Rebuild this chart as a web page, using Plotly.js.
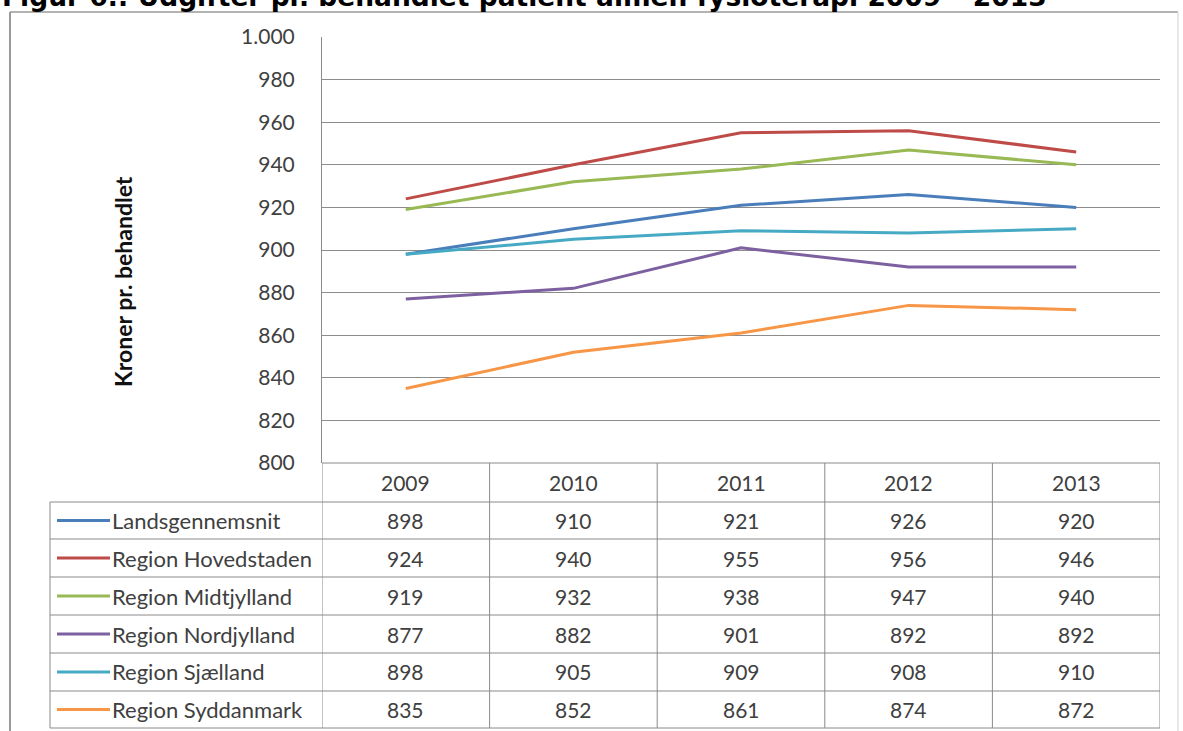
<!DOCTYPE html>
<html>
<head>
<meta charset="utf-8">
<script src="https://cdn.plot.ly/plotly-3.0.1.min.js"></script>
<style>html,body{margin:0;padding:0;background:#fff;}#chart{width:1183px;height:731px;}</style>
</head>
<body>
<div id="chart"></div>
<script>
// ---- data ----
var years = ['2009', '2010', '2011', '2012', '2013'];
var seriesNames = ['Landsgennemsnit', 'Region Hovedstaden', 'Region Midtjylland', 'Region Nordjylland', 'Region Sjælland', 'Region Syddanmark'];
var landsgennemsnit = [898, 910, 921, 926, 920];
var hovedstaden = [924, 940, 955, 956, 946];
var midtjylland = [919, 932, 938, 947, 940];
var nordjylland = [877, 882, 901, 892, 892];
var sjaelland = [898, 905, 909, 908, 910];
var syddanmark = [835, 852, 861, 874, 872];
var seriesValues = [landsgennemsnit, hovedstaden, midtjylland, nordjylland, sjaelland, syddanmark];
var seriesColors = ['#4A7EBB', '#BE4B48', '#98B954', '#7D60A0', '#46AAC5', '#F79646'];
var titleText = 'Figur 6.: Udgifter pr. behandlet patient almen fysioterapi 2009 – 2013';
var yTitle = 'Kroner pr. behandlet';

// ---- geometry helpers (pixel -> paper) ----
var W = 1183, H = 731;
var L = 322, R = 1160, T = 37, B = 463;
function px(x) { return (x - L) / (R - L); }
function py(y) { return (B - y) / (B - T); }

var FONT = 'Lato, "Open Sans", sans-serif';
var lineCol = '#8a8a8a';

var traces = seriesNames.map(function (n, i) {
  return {
    type: 'scatter', mode: 'lines', name: n,
    x: years.map(function (_, j) { return j; }), y: seriesValues[i],
    text: years,
    line: { color: seriesColors[i], width: 3 },
    hoverinfo: 'text+y+name'
  };
});

var shapes = [];
var annotations = [];

// outer frame
shapes.push({ type: 'line', xref: 'paper', yref: 'paper', x0: px(10), x1: px(10), y0: py(12), y1: py(735), line: { color: '#9a9a9a', width: 2 } });
shapes.push({ type: 'line', xref: 'paper', yref: 'paper', x0: px(10), x1: px(1178), y0: py(12), y1: py(12), line: { color: '#9a9a9a', width: 1.5 } });
shapes.push({ type: 'line', xref: 'paper', yref: 'paper', x0: px(1178), x1: px(1178), y0: py(12), y1: py(735), line: { color: '#e0e0e0', width: 1.5 } });

// table geometry
var rowLines = [463, 502, 539, 577, 615, 653, 691, 728];
var tableLeft = 50;

for (var r = 0; r < rowLines.length; r++) {
  var x0 = r === 0 ? L : tableLeft;
  shapes.push({ type: 'line', xref: 'paper', yref: 'paper', x0: px(x0), x1: px(R), y0: py(rowLines[r]), y1: py(rowLines[r]), line: { color: lineCol, width: 1 } });
}
for (var c = 0; c <= years.length; c++) {
  shapes.push({ type: 'line', xref: 'x', yref: 'paper', x0: c - 0.5, x1: c - 0.5, y0: py(463), y1: py(728), line: { color: lineCol, width: 1 } });
}
shapes.push({ type: 'line', xref: 'paper', yref: 'paper', x0: px(tableLeft), x1: px(tableLeft), y0: py(502), y1: py(728), line: { color: lineCol, width: 1 } });

// header years
years.forEach(function (yr, j) {
  annotations.push({ xref: 'x', yref: 'paper', x: j, y: py(482.5), text: yr, showarrow: false, xanchor: 'center', yanchor: 'middle', font: { family: FONT, size: 21, color: '#404040' } });
});
// rows
seriesNames.forEach(function (n, i) {
  var cy = (rowLines[i + 1] + rowLines[i + 2]) / 2;
  shapes.push({ type: 'line', xref: 'paper', yref: 'paper', x0: px(57), x1: px(110), y0: py(cy), y1: py(cy), line: { color: seriesColors[i], width: 3 } });
  annotations.push({ xref: 'paper', yref: 'paper', x: px(110), y: py(cy), text: n, showarrow: false, xanchor: 'left', yanchor: 'middle', font: { family: FONT, size: 22, color: '#404040' } });
  seriesValues[i].forEach(function (v, j) {
    annotations.push({ xref: 'x', yref: 'paper', x: j, y: py(cy), text: String(v), showarrow: false, xanchor: 'center', yanchor: 'middle', font: { family: FONT, size: 21, color: '#404040' } });
  });
});

// y axis title
annotations.push({ xref: 'paper', yref: 'paper', x: px(123), y: py(282), text: '<b>' + yTitle + '</b>', textangle: -90, showarrow: false, xanchor: 'center', yanchor: 'middle', font: { family: FONT, size: 23, color: '#111' } });
// main title (cropped at top of the picture, as in the reference)
annotations.push({ xref: 'paper', yref: 'paper', x: px(0), y: py(-3), text: '<b>' + titleText + '</b>', showarrow: false, xanchor: 'left', yanchor: 'middle', font: { family: '"DejaVu Sans", Verdana, sans-serif', size: 26.5, color: '#000' } });

var layout = {
  width: W, height: H,
  margin: { l: L, r: W - R, t: T, b: H - B, pad: 0 },
  paper_bgcolor: '#fff', plot_bgcolor: '#fff',
  separators: ',.',
  showlegend: false,
  xaxis: { range: [-0.5, years.length - 0.5], showticklabels: false, showgrid: false, zeroline: false, showline: false, ticks: '' },
  yaxis: { range: [800, 1000], dtick: 20, tickformat: ',d', showgrid: true, gridcolor: '#8c8c8c', gridwidth: 1, zeroline: false, showline: true, linecolor: '#8c8c8c', linewidth: 1, ticks: '', ticklabelstandoff: 22, tickfont: { family: FONT, size: 21, color: '#404040' } },
  shapes: shapes,
  annotations: annotations
};

Plotly.newPlot('chart', traces, layout, { displayModeBar: false, staticPlot: true });
</script>
</body>
</html>
